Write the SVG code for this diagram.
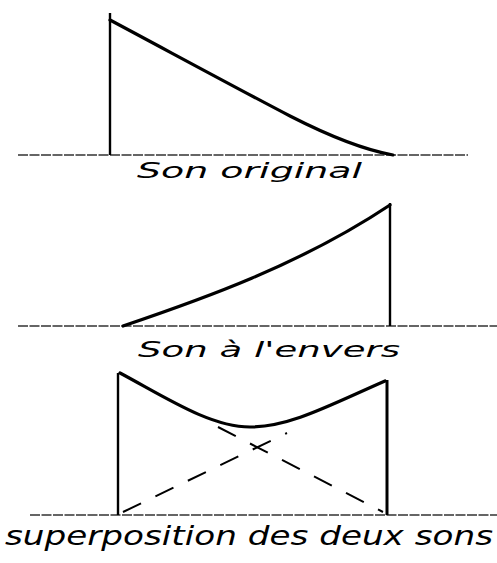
<svg xmlns="http://www.w3.org/2000/svg" width="497" height="563" viewBox="0 0 497 563">
<style>
.axis{stroke:#333;stroke-width:1.6;fill:none;stroke-dasharray:10 1.5}
.wave{stroke:#000;stroke-width:3.2;fill:none;stroke-linecap:round;stroke-linejoin:round}
.vert{stroke:#000;stroke-width:2.4;fill:none}
.dash{stroke:#000;stroke-width:2;fill:none;stroke-dasharray:20 16}
.lbl{font-family:"DejaVu Sans","Liberation Sans",sans-serif;font-style:italic;fill:#000}
</style>
<rect width="497" height="563" fill="#fff"/>
<g id="original">
<line class="axis" x1="18" y1="155" x2="468" y2="155"/>
<line class="vert" x1="110" y1="13" x2="110" y2="155"/>
<path class="wave" d="M110,20 C170,52 240,90 290,116 C335,139 365,150 393,155"/>
<text class="lbl" x="137" y="178" font-size="22" textLength="225" lengthAdjust="spacingAndGlyphs">Son original</text>
</g>
<g id="reverse">
<line class="axis" x1="18" y1="326" x2="497" y2="326"/>
<line class="vert" x1="390" y1="203" x2="390" y2="326"/>
<path class="wave" d="M123,326 C200,300 300,265 390,205"/>
<text class="lbl" x="138" y="357" font-size="22" textLength="262" lengthAdjust="spacingAndGlyphs">Son à l'envers</text>
</g>
<g id="superposition">
<line class="axis" x1="30" y1="515" x2="497" y2="515"/>
<line class="vert" x1="118" y1="373" x2="118" y2="515"/>
<line class="vert" x1="387" y1="380" x2="387" y2="515" style="stroke-width:3"/>
<path class="wave" d="M120,373 C165,397 210,427 250,427 C290,427 330,405 385,381"/>
<g id="connectors">
<line class="dash" x1="123" y1="512" x2="287" y2="433"/>
<line class="dash" x1="218" y1="427" x2="383" y2="512"/>
</g>
<text class="lbl" x="5" y="545" font-size="27" textLength="488" lengthAdjust="spacingAndGlyphs">superposition des deux sons</text>
</g>
</svg>
